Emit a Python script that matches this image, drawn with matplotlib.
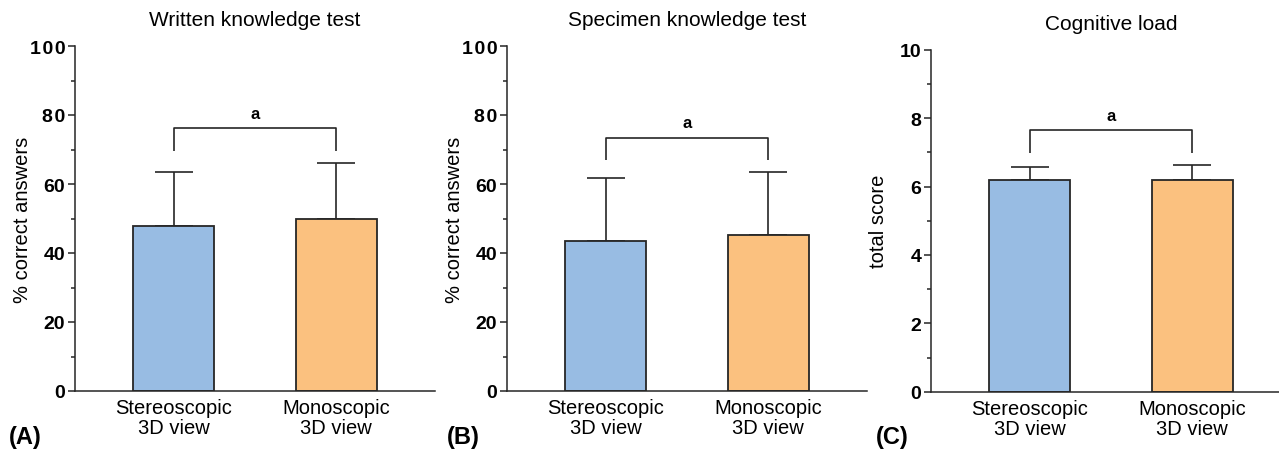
import matplotlib
matplotlib.use("Agg")
import matplotlib.pyplot as plt
from matplotlib.ticker import MultipleLocator

plt.rcParams['font.family'] = ['Liberation Sans', 'DejaVu Sans']

# data
groups = ["Stereoscopic\n3D view", "Monoscopic\n3D view"]
bar_colors = ["#98bce3", "#fbc17f"]

written_mean = [47.8, 49.9]
written_sd = [15.7, 16.2]

specimen_mean = [43.4, 45.1]
specimen_sd = [18.3, 18.3]

load_mean = [6.2, 6.2]
load_sd = [0.36, 0.44]

titles = ["Written knowledge test", "Specimen knowledge test", "Cognitive load"]
ylabels = ["% correct answers", "% correct answers", "total score"]
panel_tags = ["(A)", "(B)", "(C)"]
sig_label = "a"

EDGE = "#262626"


def fmt_tick(v, pos=None):
    # the original uses loose digit spacing on the upper ticks
    s = str(int(round(v)))
    if len(s) > 1 and v >= 80:
        return "\u200a".join(s)
    return s


def draw_panel(ax, means, sds, ymax, major, title, ylabel):
    x = list(range(len(means)))
    ax.bar(x, means, width=0.5, color=bar_colors, edgecolor=EDGE,
           linewidth=1.3, zorder=2)
    ax.errorbar(x, means, yerr=[[0] * len(sds), sds], fmt="none",
                ecolor=EDGE, elinewidth=1.2, capsize=13.5, capthick=1.2,
                zorder=1)

    # significance bracket above the error bars
    top = max(m + s for m, s in zip(means, sds))
    by = top + 0.10 * ymax
    drop = 0.065 * ymax
    ax.plot([x[0], x[0], x[-1], x[-1]], [by - drop, by, by, by - drop],
            color=EDGE, lw=1.2, solid_capstyle="butt")
    ax.text((x[0] + x[-1]) / 2, by + 0.022 * ymax, sig_label,
            ha="center", va="bottom", fontsize=12, fontweight="bold")

    ax.set_ylim(0, ymax)
    ax.set_xlim(-0.61, 1.61)
    ax.yaxis.set_major_locator(MultipleLocator(major))
    ax.yaxis.set_minor_locator(MultipleLocator(major / 2))
    ax.yaxis.set_major_formatter(plt.FuncFormatter(fmt_tick))
    ax.set_xticks(x)
    ax.set_xticklabels(groups, fontsize=14.5, linespacing=1.1)
    ax.tick_params(axis="x", length=0, pad=5)
    ax.tick_params(axis="y", which="major", length=5, width=1.1,
                   color=EDGE, labelsize=14, pad=2)
    ax.tick_params(axis="y", which="minor", length=2.7, width=1.1, color=EDGE)
    for lbl in ax.get_yticklabels():
        lbl.set_fontweight("bold")

    for side in ("top", "right"):
        ax.spines[side].set_visible(False)
    for side in ("left", "bottom"):
        ax.spines[side].set_linewidth(1.1)
        ax.spines[side].set_color(EDGE)

    ax.set_title(title, fontsize=15, pad=15)
    ax.set_ylabel(ylabel, fontsize=14.5)
    ax.yaxis.set_label_coords(-0.12, 0.5)


fig = plt.figure(figsize=(12.79, 4.52), dpi=100)
W = 1279.0
H = 452.0
ax_a = fig.add_axes([75 / W, 60 / H, 360 / W, 345 / H])
ax_b = fig.add_axes([507 / W, 60 / H, 360 / W, 345 / H])
ax_c = fig.add_axes([931 / W, 59.3 / H, 360 / W, 342 / H])

draw_panel(ax_a, written_mean, written_sd, 100, 20, titles[0], ylabels[0])
draw_panel(ax_b, specimen_mean, specimen_sd, 100, 20, titles[1], ylabels[1])
draw_panel(ax_c, load_mean, load_sd, 10, 2, titles[2], ylabels[2])

for tag, xpix in zip(panel_tags, [9, 447, 876]):
    fig.text(xpix / W, 14 / H, tag, fontsize=17, fontweight="bold",
             ha="left", va="center")

fig.savefig("out.png", dpi=100)
